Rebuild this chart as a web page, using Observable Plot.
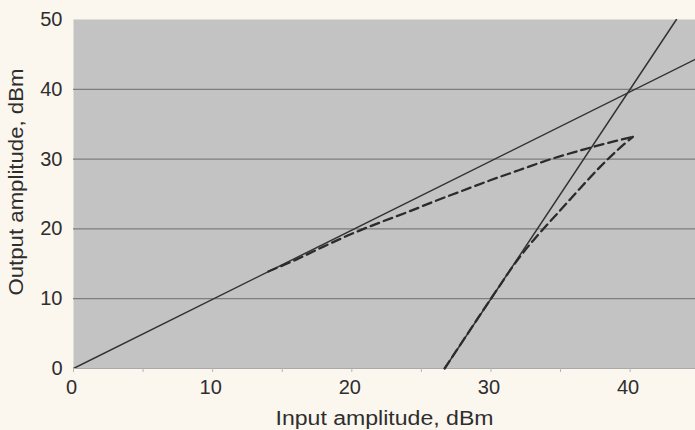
<!DOCTYPE html>
<html>
<head>
<meta charset="utf-8">
<script src="https://cdn.jsdelivr.net/npm/d3@7"></script>
<script src="https://cdn.jsdelivr.net/npm/@observablehq/plot@0.6"></script>
<style>
  html, body { margin: 0; padding: 0; background: #fbf7ef; }
  #chart svg { display: block; }
</style>
</head>
<body>
<div id="chart"></div>
<script>
// Tick labels
const inputTicks = [0, 10, 20, 30, 40];
const inputMinorTicks = [0, 5, 10, 15, 20, 25, 30, 35, 40];
const outputTicks = [0, 10, 20, 30, 40, 50];
const gridLevels = [10, 20, 30, 40];
const xTitle = "Input amplitude, dBm";
const yTitle = "Output amplitude, dBm";

// Ideal fundamental (slope ~1)
const fundIdealIn = [0, 44.7];
const fundIdealOut = [0, 44.3];

// Ideal third-order product (slope 3, IP3 = 40 dBm)
const im3IdealIn = [26.67, 43.33];
const im3IdealOut = [0, 50];

// Actual (compressed) fundamental, dashed
const fundActualIn = [14, 16, 18, 20, 22, 24, 26, 28, 30, 32, 34, 36, 38, 40.2];
const fundActualOut = [13.9, 15.6, 17.5, 19.3, 20.9, 22.4, 24.0, 25.5, 27.0, 28.4, 29.8, 31.0, 32.1, 33.2];

// Actual third-order product, dashed
const im3ActualIn = [26.67, 30, 32, 33.5, 35, 36.4, 37.9, 39.1, 40.2];
const im3ActualOut = [0, 10, 15.8, 19.4, 22.7, 25.8, 29.0, 31.3, 33.2];

const toPts = (xs, ys) => xs.map((x, i) => ({x, y: ys[i]}));

const font = "'Liberation Sans', Arial, Helvetica, sans-serif";
const ink = "#2e2e2e";

const chart = Plot.plot({
  width: 695,
  height: 430,
  marginLeft: 73,
  marginRight: 0,
  marginTop: 19,
  marginBottom: 62,
  style: {background: "transparent", fontFamily: font, color: ink, overflow: "visible"},
  x: {domain: [0, 44.7], label: null},
  y: {domain: [0, 50], label: null},
  marks: [
    Plot.frame({fill: "#c3c3c3", stroke: null}),
    Plot.ruleY(gridLevels, {stroke: "#7e7e7e", strokeWidth: 1.3}),
    Plot.ruleY([0], {stroke: "#a9a9a9", strokeWidth: 1}),
    Plot.axisX(inputMinorTicks, {tickSize: 4, stroke: "#b8b4ae", text: null}),
    Plot.axisX(inputTicks, {tickSize: 0, tickPadding: 11, fontSize: 20, fill: ink, dx: -2}),
    Plot.axisY(outputTicks, {tickSize: 0, tickPadding: 11, fontSize: 20, fill: ink}),
    Plot.line(toPts(fundIdealIn, fundIdealOut), {x: "x", y: "y", stroke: "#333", strokeWidth: 1.5, clip: true}),
    Plot.line(toPts(im3IdealIn, im3IdealOut), {x: "x", y: "y", stroke: "#333", strokeWidth: 1.5, clip: true}),
    Plot.line(toPts(fundActualIn, fundActualOut), {x: "x", y: "y", stroke: "#2b2b2b", strokeWidth: 2.3, strokeDasharray: "9,5", curve: "catmull-rom"}),
    Plot.line(toPts(im3ActualIn, im3ActualOut), {x: "x", y: "y", stroke: "#2b2b2b", strokeWidth: 2.3, strokeDasharray: "9,5", curve: "catmull-rom"}),
    Plot.text([xTitle], {frameAnchor: "bottom", textAnchor: "middle", dy: 56, fontSize: 20, fill: ink}),
    Plot.text([yTitle], {frameAnchor: "left", textAnchor: "middle", dx: -57, dy: -12, rotate: -90, fontSize: 20, fill: ink})
  ]
});
// The reference lettering is slightly wider than the installed fonts: stretch the titles.
d3.select(chart).selectAll("text").each(function () {
  const t = this.textContent;
  if (t === xTitle) d3.select(this).attr("textLength", 218).attr("lengthAdjust", "spacingAndGlyphs");
  if (t === yTitle) d3.select(this).attr("textLength", 227).attr("lengthAdjust", "spacingAndGlyphs");
});
document.getElementById("chart").appendChild(chart);
</script>
</body>
</html>
